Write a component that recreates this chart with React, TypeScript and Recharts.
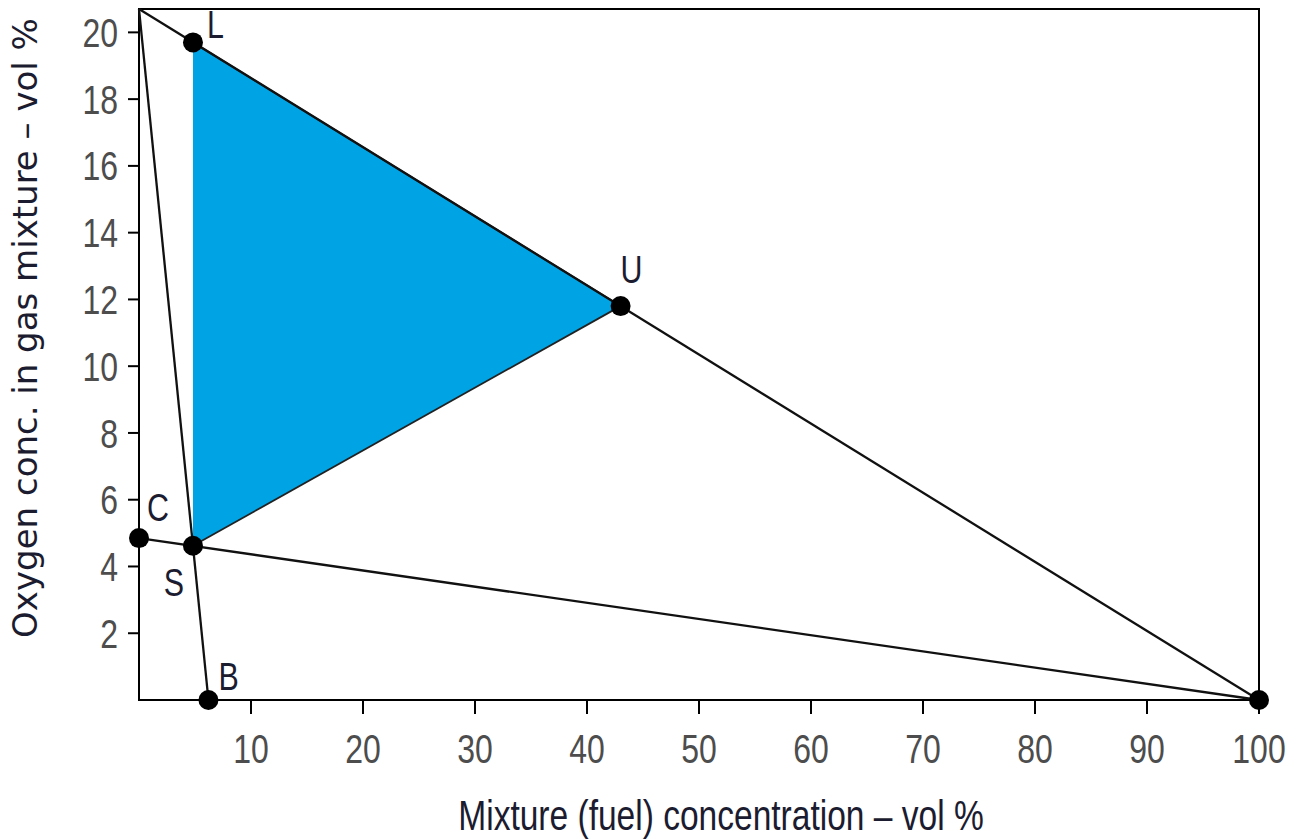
import { Area, ComposedChart, Label, ReferenceArea, Scatter, XAxis, YAxis } from "recharts";

// axis ticks
const xTicks = [10, 20, 30, 40, 50, 60, 70, 80, 90, 100];
const yTicks = [2, 4, 6, 8, 10, 12, 14, 16, 18, 20];
const yMax = 20.7;

// straight lines of the diagram
const airLine = [
  { x: 0, y: 20.7 },
  { x: 100, y: 0 },
];
const stoichLine = [
  { x: 0, y: 20.7 },
  { x: 6.2, y: 0 },
];
const inertLine = [
  { x: 0, y: 4.85 },
  { x: 100, y: 0 },
];

// flammable region L-U-S
const triangle = [
  { x: 4.82, range: [4.62, 19.7] },
  { x: 43, range: [11.8, 11.8] },
];

// marked points
const pointNames = ["L", "U", "S", "C", "B", ""];
const pointX = [4.82, 43, 4.82, 0, 6.2, 100];
const pointY = [19.7, 11.8, 4.62, 4.85, 0, 0];
const points = pointNames.map((name, i) => ({ name, x: pointX[i], y: pointY[i] }));

const labelOffset: Record<string, [number, number, string]> = {
  L: [14, -4, "start"],
  U: [11, -23, "middle"],
  S: [-19, 50, "middle"],
  C: [8, -17, "start"],
  B: [10, -10, "start"],
};

const font = "'Liberation Sans', Arial, sans-serif";
const squeeze = 0.78;

// condensed-looking text: the font squeezed horizontally
const CondText = ({ x, y, anchor, size, fill, dy, children }: any) => (
  <text
    transform={`translate(${x} ${y}) scale(${squeeze} 1)`}
    textAnchor={anchor}
    fontFamily={font}
    fontSize={size}
    fill={fill}
    dy={dy}
  >
    {children}
  </text>
);

const XTick = (props: any) => (
  <CondText x={props.x} y={props.y} anchor="middle" size={41} fill="#4d4d4d" dy="0.71em">
    {props.payload.value}
  </CondText>
);

const YTick = (props: any) => (
  <CondText x={props.x} y={props.y} anchor="end" size={41} fill="#4d4d4d" dy="0.355em">
    {props.payload.value}
  </CondText>
);

const NoShape = () => <g />;

const Dot = (props: any) => {
  const { cx, cy, payload } = props;
  const off = labelOffset[payload.name];
  return (
    <g>
      <circle cx={cx} cy={cy} r={10} fill="#000" />
      {off && (
        <CondText x={cx + off[0]} y={cy + off[1]} anchor={off[2]} size={39} fill="#1c1c30">
          {payload.name}
        </CondText>
      )}
    </g>
  );
};

const lineStyle = { stroke: "#111", strokeWidth: 2.3 };

export default function App() {
  return (
    <ComposedChart width={1296} height={831} margin={{ top: 1, right: 45, bottom: 0, left: 0 }}>
      <XAxis
        type="number"
        dataKey="x"
        domain={[0, 100]}
        ticks={xTicks}
        tick={XTick}
        tickSize={14}
        tickMargin={20}
        height={139}
        stroke="#000"
        strokeWidth={2}
      >
        <Label
          content={() => (
            <CondText x={713} y={822} anchor="middle" size={43} fill="#1c1c30">
              Mixture (fuel) concentration – vol %
            </CondText>
          )}
        />
      </XAxis>
      <YAxis
        type="number"
        dataKey="y"
        domain={[0, yMax]}
        ticks={yTicks}
        tick={YTick}
        tickSize={11}
        tickMargin={10}
        width={131}
        stroke="#000"
        strokeWidth={2}
      >
        <Label
          content={() => (
            <text
              x={29}
              y={320}
              transform="rotate(-90 29 320)"
              textAnchor="middle"
              fontFamily="'DejaVu Sans', sans-serif"
              fontSize={34}
              fill="#1c1c30"
            >
              Oxygen conc. in gas mixture – vol %
            </text>
          )}
        />
      </YAxis>
      <ReferenceArea x1={0} x2={100} y1={0} y2={yMax} fill="none" stroke="#000" strokeWidth={2} />
      <Area
        data={triangle}
        dataKey="range"
        type="linear"
        fill="#00a3e4"
        fillOpacity={1}
        stroke="#222"
        strokeWidth={1.8}
        isAnimationActive={false}
      />
      <Scatter data={airLine} line={lineStyle} {...lineStyle} shape={NoShape} isAnimationActive={false} />
      <Scatter data={stoichLine} line={lineStyle} {...lineStyle} shape={NoShape} isAnimationActive={false} />
      <Scatter data={inertLine} line={lineStyle} {...lineStyle} shape={NoShape} isAnimationActive={false} />
      <Scatter data={points} shape={Dot} isAnimationActive={false} />
    </ComposedChart>
  );
}
